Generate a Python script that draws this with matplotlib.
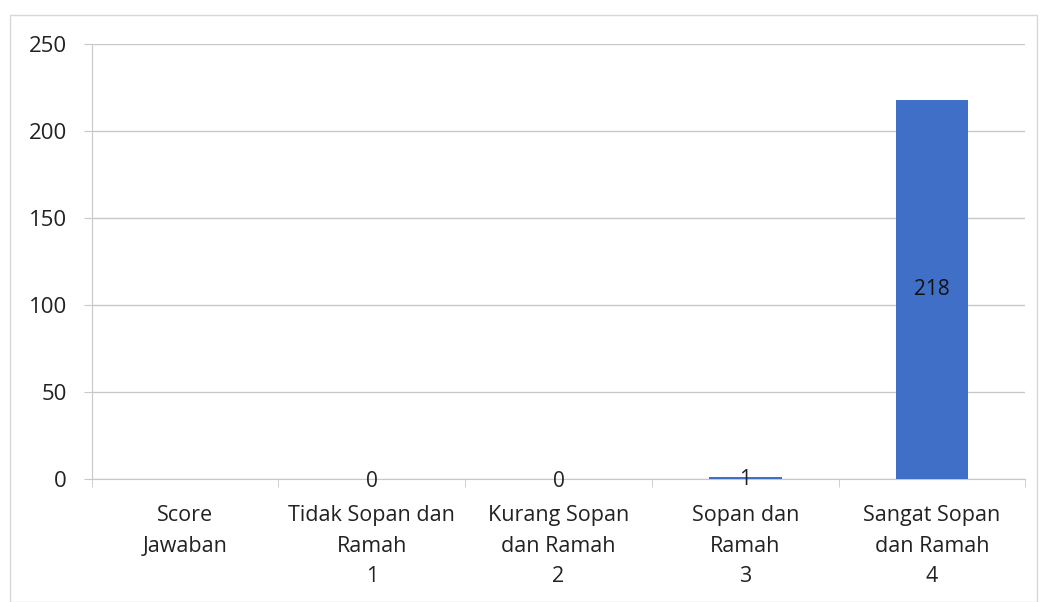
import matplotlib.pyplot as plt
import numpy as np

plt.rcParams['font.family'] = ['Open Sans', 'DejaVu Sans']

# data
categories = ["Score\nJawaban", "Tidak Sopan dan\nRamah\n1", "Kurang Sopan\ndan Ramah\n2",
              "Sopan dan\nRamah\n3", "Sangat Sopan\ndan Ramah\n4"]
values = [np.nan, 0, 0, 1, 218]
y_ticks = [0, 50, 100, 150, 200, 250]

bar_color = '#3f6fc6'
grid_color = '#c8c8c8'

fig = plt.figure(figsize=(10.42, 6.02), dpi=100)
ax = fig.add_axes([0.088, 0.205, 0.896, 0.722])

x = np.arange(len(categories))
bars = ax.bar(x, values, width=0.39, color=bar_color, zorder=3)

# data labels
for xi, v in zip(x, values):
    if np.isnan(v):
        continue
    if v > 50:
        ax.text(xi, v / 2, str(int(v)), ha='center', va='center', fontsize=15, color='#111111', zorder=4)
    else:
        ax.annotate(str(int(v)), (xi, v), xytext=(0, -2), textcoords='offset points',
                    ha='center', va='center', fontsize=15, color='#222222', zorder=4)

ax.set_xlim(-0.5, len(categories) - 0.5)
ax.set_ylim(0, 250)
ax.set_yticks(y_ticks)
ax.tick_params(axis='y', labelsize=16, length=6, color=grid_color, pad=12, labelcolor='#222222')
ax.yaxis.grid(True, color=grid_color, linewidth=1, zorder=0)

ax.set_xticks(x)
ax.set_xticklabels(categories, fontsize=15.5, color='#222222', linespacing=1.6)
ax.tick_params(axis='x', length=0, pad=19)
# category boundary ticks
ax.set_xticks(np.arange(-0.5, len(categories), 1), minor=True)
ax.tick_params(axis='x', which='minor', length=6, color=grid_color)

for s in ['top', 'right']:
    ax.spines[s].set_visible(False)
ax.spines['left'].set_color(grid_color)
ax.spines['bottom'].set_color(grid_color)

# faint outer chart border
fig.add_artist(plt.Rectangle((0.01, 0.0), 0.985, 0.975, transform=fig.transFigure,
                             fill=False, edgecolor='#d8d8d8', linewidth=1))

fig.savefig('out.png', dpi=100)
